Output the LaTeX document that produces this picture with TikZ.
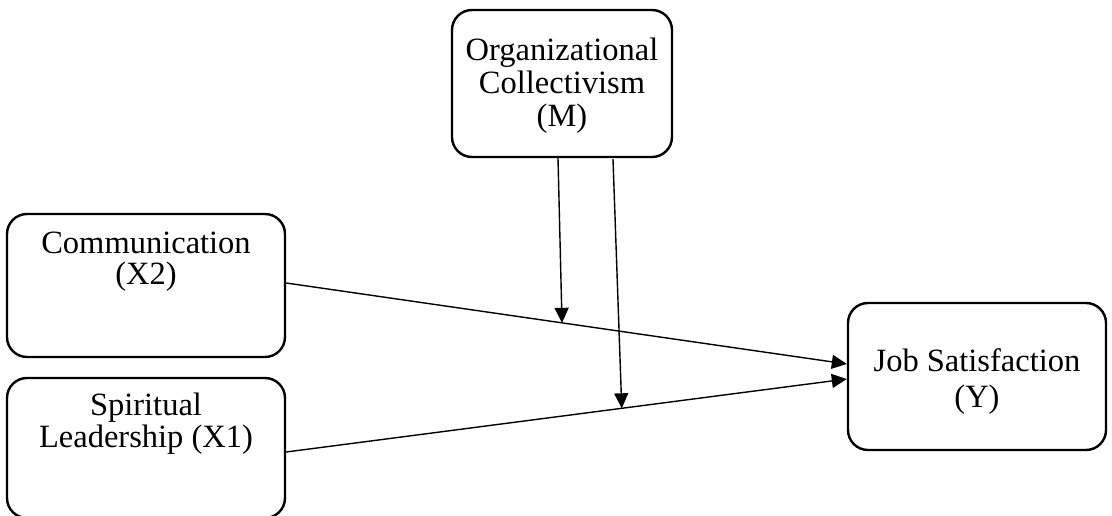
\documentclass[tikz,border=0pt]{standalone}
\usepackage{fontspec}
\setmainfont{Liberation Serif}
\usetikzlibrary{arrows.meta}
\begin{document}
\begin{tikzpicture}[x=1pt,y=-1pt,
  boxnode/.style={draw=black,line width=2.4pt,rounded corners=20pt,minimum width=#1,inner sep=0pt},
  txt/.style={font=\fontsize{32.5}{33}\selectfont,align=center,inner sep=0pt},
  conn/.style={line width=1.4pt,-{Triangle[length=15pt,width=14pt]}}]
\useasboundingbox (0,0) rectangle (1112,516);
\node[boxnode=220pt,minimum height=147pt] (m) at (562,83.5) {};
\node[boxnode=278pt,minimum height=143pt] (comm) at (146,285.5) {};
\node[boxnode=278pt,minimum height=140pt] (spir) at (146,448) {};
\node[boxnode=258pt,minimum height=147pt] (job) at (977,376.5) {};
\node[txt] (mt) at (562,86) {Organizational\\Collectivism\\(M)};
\node[txt,font=\fontsize{32.5}{31}\selectfont] (ct) at (146,262) {Communication\\(X2)};
\node[txt,font=\fontsize{32.5}{32}\selectfont] (st) at (146,424) {Spiritual\\Leadership (X1)};
\node[txt,font=\fontsize{32.5}{36}\selectfont] (jt) at (977,382) {Job Satisfaction\\(Y)};
\coordinate (c1) at ([yshift=2.5pt]comm.east);
\coordinate (j1) at ([yshift=12.5pt]job.west);
\coordinate (s1) at ([yshift=-4pt]spir.east);
\coordinate (j2) at ([yshift=-2.5pt]job.west);
\draw[conn] (c1) -- (j1) coordinate[pos=0.492] (p1);
\draw[conn] (s1) -- (j2) coordinate[pos=0.5986] (p2);
\draw[conn] ([xshift=-4pt]m.south) -- (p1);
\draw[conn] ([xshift=51pt,yshift=-1pt]m.south) -- (p2);
\end{tikzpicture}
\end{document}
